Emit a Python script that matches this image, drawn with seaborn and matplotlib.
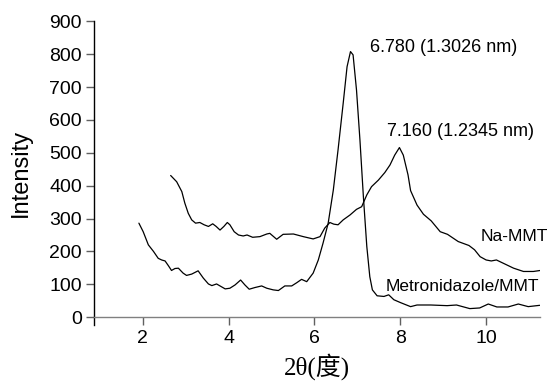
import numpy as np
import pandas as pd
import matplotlib
matplotlib.use("Agg")
import matplotlib.pyplot as plt
import seaborn as sns

# Na-MMT 曲线 (2θ, 强度)
na_x = [2.65, 2.79, 2.91, 2.98, 3.06, 3.14, 3.23, 3.33, 3.43, 3.53, 3.63, 3.71, 3.80, 3.89,
        3.97, 4.03, 4.13, 4.23, 4.34, 4.43, 4.56, 4.73, 4.89, 4.96, 5.12, 5.27, 5.51, 5.74,
        5.97, 6.13, 6.24, 6.36, 6.45, 6.55, 6.67, 6.83, 6.98, 7.10, 7.22, 7.33, 7.49, 7.64,
        7.76, 7.87, 7.98, 8.07, 8.18, 8.24, 8.39, 8.54, 8.72, 8.93, 9.10, 9.35, 9.60, 9.73,
        9.86, 10.00, 10.12, 10.24, 10.40, 10.64, 10.87, 11.10, 11.26]
na_y = [431, 412, 382, 347, 316, 296, 286, 288, 281, 276, 284, 276, 265, 276,
        288, 281, 260, 250, 247, 250, 243, 245, 253, 255, 237, 252, 253, 245,
        238, 245, 271, 288, 283, 281, 296, 311, 328, 336, 372, 397, 417, 440,
        463, 493, 516, 493, 433, 385, 341, 313, 293, 260, 252, 230, 218, 205,
        184, 174, 171, 174, 164, 149, 139, 139, 142]

# Metronidazole/MMT 曲线
mt_x = [1.91, 2.01, 2.13, 2.25, 2.36, 2.44, 2.52, 2.60, 2.67, 2.75, 2.83, 2.94, 3.02, 3.14,
        3.29, 3.41, 3.53, 3.61, 3.72, 3.80, 3.92, 4.03, 4.15, 4.28, 4.38, 4.48, 4.61, 4.77,
        4.89, 5.04, 5.16, 5.31, 5.47, 5.59, 5.70, 5.82, 5.97, 6.09, 6.20, 6.32, 6.44, 6.55,
        6.67, 6.76, 6.84, 6.90, 6.98, 7.06, 7.14, 7.22, 7.29, 7.35, 7.46, 7.62, 7.73, 7.85,
        8.01, 8.24, 8.39, 8.71, 9.09, 9.31, 9.62, 9.85, 10.05, 10.25, 10.51, 10.75, 10.98, 11.25]
mt_y = [286, 260, 220, 200, 179, 174, 171, 156, 142, 148, 149, 134, 127, 131,
        141, 119, 101, 96, 101, 95, 86, 88, 98, 113, 98, 85, 90, 95,
        88, 83, 81, 95, 95, 105, 115, 108, 134, 174, 225, 286, 387, 509,
        651, 762, 808, 798, 691, 539, 367, 215, 123, 83, 65, 63, 68, 53,
        44, 32, 37, 37, 35, 37, 26, 28, 40, 31, 31, 40, 32, 36]

# 标注文字
peak_labels = ["6.780 (1.3026 nm)", "7.160 (1.2345 nm)"]
peak_pos = [(7.29, 819), (7.68, 564)]
curve_labels = ["Na-MMT", "Metronidazole/MMT"]
curve_pos = [(9.88, 245), (7.67, 93)]

x_ticks = [2, 4, 6, 8, 10]
y_ticks = [0, 100, 200, 300, 400, 500, 600, 700, 800, 900]

sns.set_theme(style="ticks")
plt.rcParams['font.family'] = ['Liberation Sans', 'DejaVu Sans']
plt.rcParams['text.color'] = 'black'
plt.rcParams['axes.labelcolor'] = 'black'

fig = plt.figure(figsize=(5.48, 3.81), dpi=100)
ax = fig.add_axes([0.172, 0.146, 0.813, 0.798])

df_na = pd.DataFrame({"x": na_x, "y": na_y})
df_mt = pd.DataFrame({"x": mt_x, "y": mt_y})
sns.lineplot(data=df_na, x="x", y="y", ax=ax, color="black", linewidth=0.9, sort=False)
sns.lineplot(data=df_mt, x="x", y="y", ax=ax, color="black", linewidth=0.9, sort=False)

ax.set_xlim(0.87, 11.25)
ax.set_ylim(-25, 900)
ax.spines['bottom'].set_position(('data', 0))
ax.spines['bottom'].set_color('#808080')
ax.spines['left'].set_color('black')
ax.spines['right'].set_visible(False)
ax.spines['top'].set_visible(False)
for s in ['bottom', 'left']:
    ax.spines[s].set_linewidth(1.0)

ax.set_xticks(x_ticks)
ax.set_yticks(y_ticks)
ax.tick_params(axis='both', direction='out', length=6, width=1.0, labelsize=14,
               color='#606060', labelcolor='black', pad=3)

ax.set_xlabel("2θ(度)", family=['Liberation Serif', 'Noto Sans CJK SC'], fontsize=18, labelpad=5)
ax.set_ylabel("Intensity", fontsize=17, labelpad=12)

for txt, (px, py) in zip(peak_labels, peak_pos):
    ax.text(px, py, txt, fontsize=13, ha='left', va='center', color='black')
for txt, (px, py) in zip(curve_labels, curve_pos):
    ax.text(px, py, txt, fontsize=12.5, ha='left', va='center', color='black')

fig.savefig("out.png", dpi=100)
